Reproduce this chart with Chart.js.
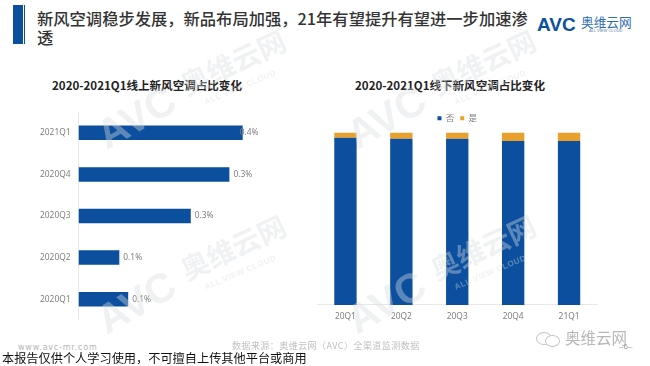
<!DOCTYPE html>
<html>
<head>
<meta charset="utf-8">
<script src="https://cdn.jsdelivr.net/npm/chart.js@4"></script>
<style>
  html, body { margin: 0; padding: 0; background: #fff; }
  #page { position: relative; width: 650px; height: 366px; overflow: hidden; font-family: "Noto Sans CJK SC", sans-serif; }
  #page div { position: absolute; white-space: nowrap; }
  canvas { position: absolute; }
  .chartTitle { font-size: 11.55px; font-weight: 700; color: #222; line-height: 14px; }
  .mark { color: rgba(215,220,225,0.4); font-weight: 700; transform-origin: left center; }
  .avc { font: 700 41px/40px 'Liberation Sans'; transform: rotate(-30deg); }
  .cn { font-size: 28px; line-height: 30px; transform: rotate(-25deg); }
  .en { font: 700 8px/10px 'Liberation Sans'; letter-spacing: .6px; transform: rotate(-23deg); }
</style>
</head>
<body>
<div id="page">
  <div style="left:13px;top:5px;width:9.5px;height:39px;background:#0b4f9e"></div>
  <div style="left:23.5px;top:5px;width:1.5px;height:39px;background:#0b4f9e"></div>
  <div style="left:37px;top:9px;font-size:16.3px;font-weight:500;line-height:18px;color:#333">新风空调稳步发展，新品布局加强，21年有望提升有望进一步加速渗</div>
  <div style="left:37px;top:28px;font-size:16.3px;font-weight:500;line-height:18px;color:#333">透</div>

  <div style="left:537px;top:14px;font:700 19px 'Liberation Sans';color:#0b4f9e">AVC</div>
  <div style="left:581px;top:15px;font-size:12.7px;line-height:14px;color:#2a6db5">奥维云网</div>
  <div style="left:589px;top:28px;font:4px 'Liberation Sans';color:#5a7ca5">ALL VIEW CLOUD</div>

  <div class="chartTitle" style="left:52px;top:78px">2020-2021Q1线上新风空调占比变化</div>
  <div class="chartTitle" style="left:355px;top:78px">2020-2021Q1线下新风空调占比变化</div>

  <canvas id="onlineChart" style="left:0;top:99px" width="310" height="234"></canvas>
  <canvas id="offlineChart" style="left:310px;top:108px" width="300" height="221"></canvas>

  <div style="left:18px;top:343px;font:8px 'DejaVu Sans';letter-spacing:.8px;color:#b5b5b5">www.avc-mr.com</div>
  <div style="left:232px;top:340px;font-size:9px;line-height:12px;letter-spacing:.45px;color:#c0c0c0">数据来源：奥维云网（AVC）全渠道监测数据</div>
  <div style="left:2px;top:350px;font-size:12.2px;line-height:16px;color:#111">本报告仅供个人学习使用，不可擅自上传其他平台或商用</div>

  <div style="left:536px;top:332px;width:14px;height:11px;border:1px solid #c4c4c4;border-radius:50%"></div>
  <div style="left:545px;top:335px;width:13px;height:10px;background:#fff;border:1px solid #c4c4c4;border-radius:50%"></div>
  <div style="left:565px;top:328px;font-size:15.5px;line-height:18px;color:#b8b8b8">奥维云网</div>
  <div style="left:619px;top:342px;font:8px 'Liberation Sans';color:#999">–6–</div>

  <div class="mark avc" style="left:100px;top:118px">AVC</div>
  <div class="mark cn" style="left:182px;top:70px">奥维云网</div>
  <div class="mark en" style="left:205px;top:98px">ALL VIEW CLOUD</div>
  <div class="mark avc" style="left:100px;top:303px">AVC</div>
  <div class="mark cn" style="left:182px;top:255px">奥维云网</div>
  <div class="mark en" style="left:205px;top:283px">ALL VIEW CLOUD</div>
  <div class="mark avc" style="left:350px;top:118px">AVC</div>
  <div class="mark cn" style="left:432px;top:70px">奥维云网</div>
  <div class="mark en" style="left:455px;top:98px">ALL VIEW CLOUD</div>
  <div class="mark avc" style="left:350px;top:303px">AVC</div>
  <div class="mark cn" style="left:432px;top:255px">奥维云网</div>
  <div class="mark en" style="left:455px;top:283px">ALL VIEW CLOUD</div>
</div>

<script>
const onlineQuarters = ["2021Q1", "2020Q4", "2020Q3", "2020Q2", "2020Q1"];
const onlineShare = [0.37, 0.34, 0.253, 0.092, 0.112];

const offlineQuarters = ["20Q1", "20Q2", "20Q3", "20Q4", "21Q1"];
const offlineNo = [97, 96.4, 96.4, 95, 95];
const offlineYes = [3, 3.6, 3.6, 5, 5];

const BLUE = "#0b4f9e";
const ORANGE = "#e9a02c";
const TICK = "#7f7f7f";
const AXIS = "#e8e8e8";
const tickFont = { family: "'Noto Sans'", size: 8.4 };

// value labels at the end of the bars, the top one sits over the bar end
const barLabels = {
  id: "barLabels",
  afterDatasetsDraw(chart) {
    const ctx = chart.ctx;
    ctx.save();
    ctx.font = "8.4px 'Noto Sans'";
    ctx.fillStyle = TICK;
    ctx.textBaseline = "middle";
    chart.getDatasetMeta(0).data.forEach((bar, i) => {
      ctx.fillText(onlineShare[i].toFixed(1) + "%", bar.x + (i === 0 ? -3 : 4), bar.y);
    });
    ctx.restore();
  }
};

new Chart(document.getElementById("onlineChart"), {
  type: "bar",
  data: {
    labels: onlineQuarters,
    datasets: [{ data: onlineShare, backgroundColor: BLUE, categoryPercentage: 1, barPercentage: 0.35 }]
  },
  options: {
    indexAxis: "y",
    responsive: false,
    animation: false,
    layout: { padding: { top: 0, bottom: 0, right: 54 } },
    plugins: { legend: { display: false }, tooltip: { enabled: false } },
    scales: {
      x: { display: false, min: 0, max: 0.4 },
      y: {
        afterFit(axis) { axis.width = 78.5; },
        grid: { drawOnChartArea: false, drawTicks: false, color: AXIS },
        border: { color: AXIS },
        ticks: { color: TICK, font: tickFont, padding: 8 }
      }
    }
  },
  plugins: [barLabels]
});

new Chart(document.getElementById("offlineChart"), {
  type: "bar",
  data: {
    labels: offlineQuarters,
    datasets: [
      { label: "否", data: offlineNo, backgroundColor: BLUE, categoryPercentage: 1, barPercentage: 0.4 },
      { label: "是", data: offlineYes, backgroundColor: ORANGE, categoryPercentage: 1, barPercentage: 0.4 }
    ]
  },
  options: {
    responsive: false,
    animation: false,
    layout: { padding: { left: 7.5, right: 13 } },
    plugins: {
      tooltip: { enabled: false },
      legend: {
        position: "top",
        labels: { boxWidth: 4, boxHeight: 4, padding: 6, color: TICK, font: { family: "'Noto Sans CJK SC'", size: 8.5 } }
      }
    },
    scales: {
      x: {
        stacked: true,
        grid: { drawOnChartArea: false, drawTicks: false },
        border: { color: AXIS },
        ticks: { color: TICK, font: tickFont, padding: 7 }
      },
      y: { stacked: true, display: false, min: 0, max: 100 }
    }
  }
});
</script>
</body>
</html>
